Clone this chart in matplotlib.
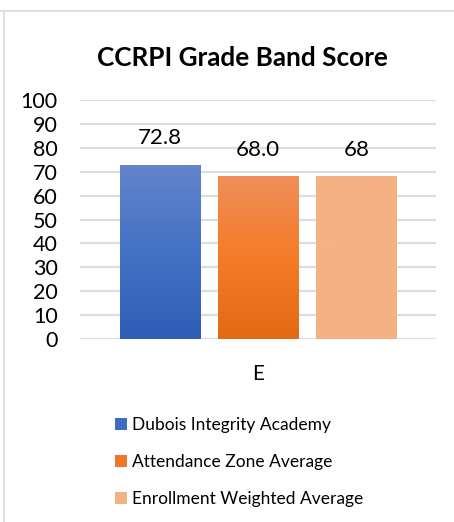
import numpy as np
from matplotlib import pyplot as plt
from matplotlib.colors import LinearSegmentedColormap
from matplotlib.lines import Line2D
from matplotlib.patches import Patch

plt.rcParams['font.family'] = ['Lato', 'DejaVu Sans']

# data
category = ["E"]
series_names = ["Dubois Integrity Academy", "Attendance Zone Average", "Enrollment Weighted Average"]
series_values = [72.8, 68.0, 68]
value_labels = ["72.8", "68.0", "68"]
y_ticks = list(range(0, 101, 10))

# gradient colours (top, middle, bottom) and legend colours
gradients = [
    ["#6284CB", "#4472C4", "#2E5DB6"],
    ["#F08F58", "#F47B27", "#E36A15"],
    ["#F4B183", "#F4B183", "#F4B183"],
]
legend_colors = ["#3E6BC2", "#EF7628", "#F4B183"]

fig = plt.figure(figsize=(4.54, 5.22), dpi=100)
ax = fig.add_axes([80 / 454, 1 - 339 / 522, 356 / 454, 239 / 522])

bar_width = 0.225
step = 0.2765
x = np.arange(len(category))
for i, (val, cols) in enumerate(zip(series_values, gradients)):
    pos = x + (i - 1) * step
    bars = ax.bar(pos, [val], width=bar_width, color=cols[1], zorder=2)
    cmap = LinearSegmentedColormap.from_list("g%d" % i, cols[::-1])
    for b in bars:
        x0, w, h = b.get_x(), b.get_width(), b.get_height()
        grad = np.linspace(0, 1, 256).reshape(-1, 1)
        im = ax.imshow(grad, cmap=cmap, origin="lower", aspect="auto",
                       extent=(x0, x0 + w, 0, h), zorder=3)
        im.set_clip_path(b)
    ax.bar_label(bars, labels=[value_labels[i]], padding=12, fontsize=16, color="#000000")

ax.set_xlim(-0.5, 0.5)
ax.set_ylim(0, 100)
ax.set_yticks(y_ticks)
ax.set_xticks(x)
ax.set_xticklabels(category)
ax.tick_params(axis="y", length=0, pad=16, labelsize=15.5)
ax.tick_params(axis="x", length=0, pad=18, labelsize=15)
ax.grid(axis="y", color="#D9DEE3", linewidth=1.6, zorder=0)
ax.set_axisbelow(True)
for s in ax.spines.values():
    s.set_visible(False)

fig.text(242 / 454, 1 - 58 / 522, "CCRPI Grade Band Score", ha="center", va="center",
         fontsize=18.8, fontweight="bold")

handles = [Patch(facecolor=c, edgecolor="none") for c in legend_colors]
fig.legend(handles, series_names, loc="upper left", bbox_to_anchor=(115 / 454, 1 - 417 / 522),
           frameon=False, fontsize=12.5, handlelength=0.7, handleheight=0.7,
           handletextpad=0.3, labelspacing=1.2, borderaxespad=0, borderpad=0)

# light frame lines at top and left of the image
fig.add_artist(Line2D([0, 1], [1 - 11 / 522, 1 - 11 / 522], color="#D9D9D9", linewidth=1.2))
fig.add_artist(Line2D([4 / 454, 4 / 454], [0, 1 - 11 / 522], color="#D9D9D9", linewidth=1.2))

fig.savefig("out.png", dpi=100)
